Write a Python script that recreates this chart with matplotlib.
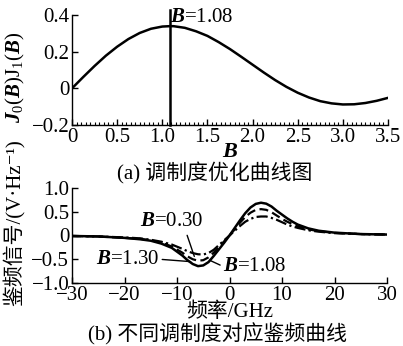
import matplotlib
matplotlib.use("Agg")
import matplotlib.pyplot as plt
from matplotlib.ticker import MultipleLocator

plt.rcParams['font.family'] = ['Liberation Serif', 'Noto Sans CJK SC', 'DejaVu Sans']
plt.rcParams['mathtext.fontset'] = 'custom'
plt.rcParams['mathtext.rm'] = 'Liberation Serif'
plt.rcParams['mathtext.it'] = 'Liberation Serif:bold:italic'
plt.rcParams['mathtext.bf'] = 'Liberation Serif:bold'
plt.rcParams['font.size'] = 15

# (a) J0(B)J1(B)
b_vals = [0, 0.125, 0.25, 0.375, 0.5, 0.625, 0.75, 0.875, 1.0, 1.08, 1.125, 1.25, 1.375,
          1.5, 1.625, 1.75, 1.875, 2.0, 2.125, 2.25, 2.375, 2.5, 2.625, 2.75, 2.875,
          3.0, 3.125, 3.25, 3.375, 3.5]
j0j1 = [0, 0.062, 0.122, 0.178, 0.227, 0.269, 0.302, 0.325, 0.337, 0.339, 0.339, 0.330,
        0.311, 0.286, 0.252, 0.214, 0.172, 0.129, 0.086, 0.045, 0.008, -0.024, -0.050,
        -0.070, -0.082, -0.088, -0.087, -0.080, -0.068, -0.052]
b_opt = 1.08

# (b) discriminator curves
freq = [-30, -25, -20, -17, -15, -13, -11, -9, -8, -7, -6, -5, -4, -3, -2, -1, 0,
        1, 2, 3, 4, 5, 6, 7, 8, 9, 10, 11, 12, 13, 15, 17, 20, 25, 30]
sig_108 = [-0.01, -0.02, -0.05, -0.08, -0.11, -0.17, -0.26, -0.42, -0.52, -0.60, -0.645,
           -0.63, -0.56, -0.43, -0.29, -0.15, 0.0, 0.16, 0.32, 0.47, 0.59, 0.665, 0.69,
           0.67, 0.61, 0.52, 0.44, 0.36, 0.29, 0.23, 0.15, 0.10, 0.06, 0.03, 0.02]
sig_130 = [-0.01, -0.02, -0.05, -0.07, -0.10, -0.15, -0.23, -0.36, -0.44, -0.50, -0.53,
           -0.52, -0.46, -0.36, -0.24, -0.12, 0.0, 0.13, 0.27, 0.39, 0.48, 0.54, 0.555,
           0.54, 0.49, 0.42, 0.35, 0.29, 0.24, 0.19, 0.13, 0.09, 0.055, 0.03, 0.02]
sig_030 = [-0.01, -0.02, -0.04, -0.06, -0.09, -0.13, -0.19, -0.28, -0.33, -0.37, -0.395,
           -0.40, -0.37, -0.30, -0.20, -0.10, 0.0, 0.10, 0.20, 0.29, 0.35, 0.39, 0.40,
           0.40, 0.37, 0.33, 0.28, 0.23, 0.19, 0.16, 0.11, 0.08, 0.05, 0.03, 0.02]

fig = plt.figure(figsize=(4.03, 3.46), dpi=100)

ax1 = fig.add_axes([72/403, 1-125/346, 316/403, 110/346])
ax1.plot(b_vals, j0j1, color='k', lw=1.8)
ax1.plot([b_opt, b_opt], [-0.2, 0.428], color='k', lw=1.8, clip_on=False)
ax1.text(b_opt + 0.01, 0.385, '$B$=1.08', ha='left', va='center', fontsize=15)
ax1.set_xlim(0, 3.5)
ax1.set_ylim(-0.2, 0.4)
ax1.set_yticks([-0.2, 0, 0.2, 0.4])
ax1.set_yticklabels(['\u22120.2', '0', '0.2', '0.4'])
ax1.set_xticks([0, 0.5, 1.0, 1.5, 2.0, 2.5, 3.0, 3.5])
ax1.set_xticklabels(['0', '0.5', '1.0', '1.5', '2.0', '2.5', '3.0', '3.5'])
ax1.xaxis.set_minor_locator(MultipleLocator(0.05))
ax1.set_xlabel('$B$', fontsize=16)
ax1.set_ylabel('$J_0(B)\\mathrm{J}_1(B)$', fontsize=15)

ax2 = fig.add_axes([72/403, 1-283/346, 315/403, 95/346])
ax2.plot(freq, sig_108, color='k', lw=1.8, ls='-')
ax2.plot(freq, sig_130, color='k', lw=1.6, ls=(0, (4, 2)))
ax2.plot(freq, sig_030, color='k', lw=1.6, ls=(0, (5, 1.5, 1, 1.5)))
ax2.set_xlim(-30, 30)
ax2.set_ylim(-1.0, 1.0)
ax2.set_yticks([-1.0, -0.5, 0, 0.5, 1.0])
ax2.set_yticklabels(['\u22121.0', '\u22120.5', '0', '0.5', '1.0'])
ax2.set_xticks([-30, -20, -10, 0, 10, 20, 30])
ax2.set_xticklabels(['\u221230', '\u221220', '\u221210', '0', '10', '20', '30'])
ax2.set_xlabel('频率/GHz', fontsize=15)
ax2.set_ylabel('鉴频信号/(V·Hz⁻¹)', fontsize=15)

ax2.annotate('$B$=0.30', xy=(-6.7, -0.44), xytext=(-11.0, 0.29), ha='center', va='center',
             fontsize=15, arrowprops=dict(arrowstyle='-', color='k', lw=1,
                                          shrinkA=1, shrinkB=0, relpos=(0.72, 0)))
ax2.annotate('$B$=1.30', xy=(-7.4, -0.55), xytext=(-19.4, -0.50), ha='center', va='center',
             fontsize=15, arrowprops=dict(arrowstyle='-', color='k', lw=1,
                                          shrinkA=0, shrinkB=0, relpos=(1, 0.5)))
ax2.annotate('$B$=1.08', xy=(-3.8, -0.52), xytext=(4.8, -0.65), ha='center', va='center',
             fontsize=15, arrowprops=dict(arrowstyle='-', color='k', lw=1,
                                          shrinkA=0, shrinkB=0, relpos=(0, 0.5)))

for ax in (ax1, ax2):
    ax.spines['top'].set_visible(False)
    ax.spines['right'].set_visible(False)
    ax.spines['left'].set_linewidth(1.0)
    ax.spines['bottom'].set_linewidth(1.0)
    ax.tick_params(which='major', direction='in', length=4, width=1, pad=2, labelsize=15)
    ax.tick_params(which='minor', direction='in', length=2, width=0.8)

# label positions in axes coords, from the reference pixel layout
ax1.yaxis.set_label_coords(-57/316, 0.43)
ax1.xaxis.set_label_coords(0.5, -27/110)
ax2.yaxis.set_label_coords(-57/315, 0.64)
ax2.xaxis.set_label_coords(0.5, -29.5/95)
ax1.xaxis.label.set_va('center')
ax2.xaxis.label.set_va('center')
ax1.yaxis.label.set_va('center')
ax2.yaxis.label.set_va('center')

fig.text(215/403, 1-173/346, '(a) 调制度优化曲线图', ha='center', va='center', fontsize=15)
fig.text(218/403, 1-334/346, '(b) 不同调制度对应鉴频曲线', ha='center', va='center', fontsize=15)

fig.savefig('out.png', dpi=100)
